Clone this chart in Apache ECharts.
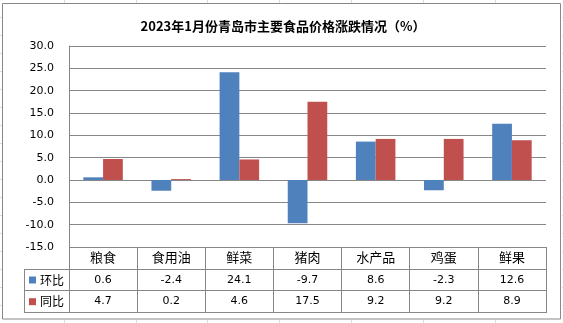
<!DOCTYPE html>
<html>
<head>
<meta charset="utf-8">
<script src="https://cdn.jsdelivr.net/npm/echarts@6/dist/echarts.min.js"></script>
<style>
  html, body { margin: 0; padding: 0; background: #ffffff; }
  #chart { width: 563px; height: 323px; }
</style>
</head>
<body>
<div id="chart"></div>
<script>
// 2023年1月 青岛市主要食品价格涨跌 (%)
const categories = ['粮食', '食用油', '鲜菜', '猪肉', '水产品', '鸡蛋', '鲜果'];
const momValues = [0.6, -2.4, 24.1, -9.7, 8.6, -2.3, 12.6];   // 环比
const yoyValues = [4.7, 0.2, 4.6, 17.5, 9.2, 9.2, 8.9];       // 同比
const seriesNames = ['环比', '同比'];
const yMin = -15, yMax = 30, yStep = 5;

const W = 563, H = 323;
const gridLeft = 69, gridRight = 17, gridTop = 46, gridBottom = 76;
const rowH = 21.7;
const tableLeft = 24;
const lineColor = '#878787';
const cjk = '"Noto Sans CJK SC", "Noto Sans", sans-serif';
const num = '"DejaVu Sans", "Liberation Sans", sans-serif';

const chart = echarts.init(document.getElementById('chart'), null, { renderer: 'canvas' });

// thin filled strips act as 1px rules
function strip(x, y, w, h, color, z) {
  return { type: 'rect', silent: true, z: z, shape: { x: x, y: y, width: w, height: h }, style: { fill: color } };
}

// light worksheet cell lines around the chart frame
const sheet = [];
[64, 136, 207, 279, 351, 423, 495].forEach(x => {
  sheet.push(strip(x, 0, 1, 3, '#dcdcdc', 1));
  sheet.push(strip(x, 320, 1, 3, '#dcdcdc', 1));
});
for (let y = 17.3; y < H; y += 18) {
  sheet.push(strip(0, Math.round(y), 2, 1, '#dcdcdc', 1));
  sheet.push(strip(562, Math.round(y), 1, 1, '#dcdcdc', 1));
}

// data-table ruling below the plot
const tableTop = H - gridBottom;
const plotRight = W - gridRight;
const tableLines = [];
for (let r = 1; r <= 3; r++) {
  tableLines.push(strip(tableLeft, Math.round(tableTop + r * rowH), plotRight - tableLeft + 1, 1, lineColor, 10));
}
tableLines.push(strip(tableLeft, Math.round(tableTop + rowH), 1, Math.round(2 * rowH) + 1, lineColor, 10));

const option = {
  backgroundColor: '#ffffff',
  animation: false,
  title: {
    text: '2023年1月份青岛市主要食品价格涨跌情况（%）',
    left: 278, top: 15, textAlign: 'center',
    textStyle: { fontFamily: cjk, fontSize: 13, fontWeight: 'bold', color: '#000' }
  },
  legend: {
    data: seriesNames,
    orient: 'vertical',
    left: 29, top: 273, padding: 0,
    icon: 'rect', itemWidth: 7, itemHeight: 7, itemGap: 7.7,
    selectedMode: false,
    textStyle: { fontFamily: cjk, fontSize: 12, lineHeight: 14, color: '#000', padding: [0, 0, 0, -1] }
  },
  grid: { left: gridLeft, right: gridRight, top: gridTop, bottom: gridBottom, containLabel: false },
  xAxis: [
    {
      type: 'category', data: categories, position: 'bottom',
      axisLine: { show: false, onZero: false },
      splitLine: { show: false },
      axisTick: { show: true, interval: 0, length: Math.round(3 * rowH), lineStyle: { color: lineColor, width: 1 } },
      axisLabel: { interval: 0, margin: 2, fontFamily: cjk, fontSize: 13, lineHeight: 16, color: '#000' }
    },
    {
      type: 'category', data: categories, position: 'bottom', offset: rowH,
      axisLine: { show: false, onZero: false }, axisTick: { show: false }, splitLine: { show: false },
      axisLabel: { interval: 0, margin: 4, fontFamily: num, fontSize: 11, lineHeight: 14, color: '#000',
        formatter: (v, i) => momValues[i].toFixed(1) }
    },
    {
      type: 'category', data: categories, position: 'bottom', offset: 2 * rowH,
      axisLine: { show: false, onZero: false }, axisTick: { show: false }, splitLine: { show: false },
      axisLabel: { interval: 0, margin: 4, fontFamily: num, fontSize: 11, lineHeight: 14, color: '#000',
        formatter: (v, i) => yoyValues[i].toFixed(1) }
    }
  ],
  yAxis: {
    type: 'value', min: yMin, max: yMax, interval: yStep,
    axisLine: { show: true, lineStyle: { color: lineColor, width: 1 } },
    axisTick: { show: false },
    axisLabel: { margin: 15, fontFamily: num, fontSize: 11, color: '#000', formatter: v => v.toFixed(1) },
    splitLine: { show: true, lineStyle: { color: lineColor, width: 1 } }
  },
  series: [
    { name: seriesNames[0], type: 'bar', xAxisIndex: 0, data: momValues, barGap: '0%', barCategoryGap: '42%',
      itemStyle: { color: '#4F81BD' } },
    { name: seriesNames[1], type: 'bar', xAxisIndex: 0, data: yoyValues, barGap: '0%', barCategoryGap: '42%',
      itemStyle: { color: '#C0504D' } }
  ],
  graphic: {
    elements: [
      ...sheet,
      { type: 'rect', silent: true, z: 1, shape: { x: 2.5, y: 3.5, width: 558, height: 315.5 },
        style: { fill: null, stroke: '#888888', lineWidth: 1 } },
      ...tableLines
    ]
  }
};

chart.setOption(option);
</script>
</body>
</html>
